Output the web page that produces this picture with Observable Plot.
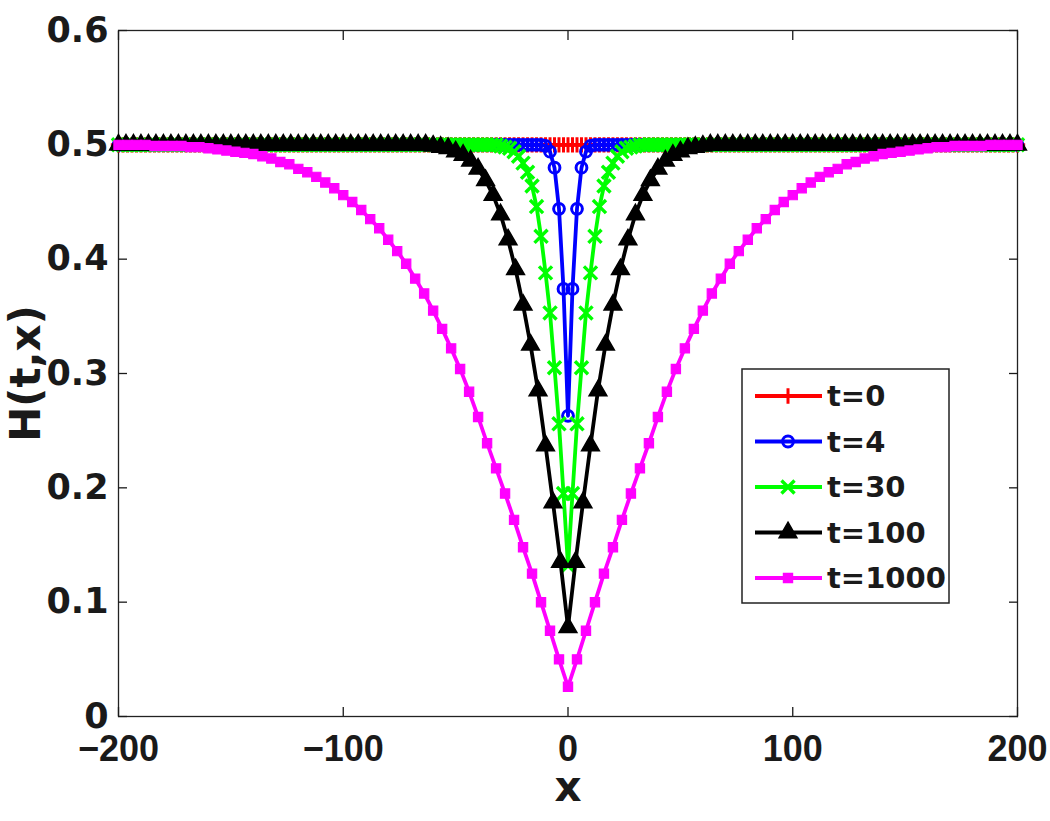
<!DOCTYPE html>
<html>
<head>
<meta charset="utf-8">
<script src="https://cdn.jsdelivr.net/npm/d3@7"></script>
<script src="https://cdn.jsdelivr.net/npm/@observablehq/plot@0.6"></script>
<style>
  html, body { margin: 0; padding: 0; background: #fff; }
  #chart { position: relative; width: 1050px; height: 821px; }
</style>
</head>
<body>
<div id="chart"></div>
<script>
// ---- data (values for x >= 0; the profile is symmetric about x = 0) ----
const seriesNames = ["t=0", "t=4", "t=30", "t=100", "t=1000"];
const seriesColors = ["#ff0000", "#0000ff", "#00ff00", "#000000", "#ff00ff"];
const seriesSymbols = ["plus", "circle", "times", "triangle", "square"];
const gridSteps = [2, 2, 2, 10 / 3, 4];   // x spacing of the sample points

const h0 = [
  0.5,0.5,0.5,0.5,0.5,0.5,0.5,0.5,0.5,0.5,
  0.5,0.5,0.5,0.5,0.5,0.5,0.5,0.5,0.5,0.5,
  0.5,0.5,0.5,0.5,0.5,0.5,0.5,0.5,0.5,0.5,
  0.5,0.5,0.5,0.5,0.5,0.5,0.5,0.5,0.5,0.5,
  0.5,0.5,0.5,0.5,0.5,0.5,0.5,0.5,0.5,0.5,
  0.5,0.5,0.5,0.5,0.5,0.5,0.5,0.5,0.5,0.5,
  0.5,0.5,0.5,0.5,0.5,0.5,0.5,0.5,0.5,0.5,
  0.5,0.5,0.5,0.5,0.5,0.5,0.5,0.5,0.5,0.5,
  0.5,0.5,0.5,0.5,0.5,0.5,0.5,0.5,0.5,0.5,
  0.5,0.5,0.5,0.5,0.5,0.5,0.5,0.5,0.5,0.5,
  0.5
];
const h4 = [
  0.263,0.374,0.444,0.480,0.494,0.499,0.5,0.5,0.5,0.5,
  0.5,0.5,0.5,0.5,0.5,0.5,0.5,0.5,0.5,0.5,
  0.5,0.5,0.5,0.5,0.5,0.5,0.5,0.5,0.5,0.5,
  0.5,0.5,0.5,0.5,0.5,0.5,0.5,0.5,0.5,0.5,
  0.5,0.5,0.5,0.5,0.5,0.5,0.5,0.5,0.5,0.5,
  0.5,0.5,0.5,0.5,0.5,0.5,0.5,0.5,0.5,0.5,
  0.5,0.5,0.5,0.5,0.5,0.5,0.5,0.5,0.5,0.5,
  0.5,0.5,0.5,0.5,0.5,0.5,0.5,0.5,0.5,0.5,
  0.5,0.5,0.5,0.5,0.5,0.5,0.5,0.5,0.5,0.5,
  0.5,0.5,0.5,0.5,0.5,0.5,0.5,0.5,0.5,0.5,
  0.5
];
const h30 = [
  0.132,0.195,0.256,0.305,0.353,0.388,0.420,0.446,0.464,0.476,
  0.484,0.490,0.494,0.497,0.498,0.499,0.5,0.5,0.5,0.5,
  0.5,0.5,0.5,0.5,0.5,0.5,0.5,0.5,0.5,0.5,
  0.5,0.5,0.5,0.5,0.5,0.5,0.5,0.5,0.5,0.5,
  0.5,0.5,0.5,0.5,0.5,0.5,0.5,0.5,0.5,0.5,
  0.5,0.5,0.5,0.5,0.5,0.5,0.5,0.5,0.5,0.5,
  0.5,0.5,0.5,0.5,0.5,0.5,0.5,0.5,0.5,0.5,
  0.5,0.5,0.5,0.5,0.5,0.5,0.5,0.5,0.5,0.5,
  0.5,0.5,0.5,0.5,0.5,0.5,0.5,0.5,0.5,0.5,
  0.5,0.5,0.5,0.5,0.5,0.5,0.5,0.5,0.5,0.5,
  0.5
];
const h100 = [
  0.078,0.135,0.187,0.237,0.285,0.325,0.360,0.391,0.417,0.439,
  0.456,0.469,0.479,0.486,0.491,0.494,0.497,0.498,0.499,0.5,
  0.5,0.5,0.5,0.5,0.5,0.5,0.5,0.5,0.5,0.5,
  0.5,0.5,0.5,0.5,0.5,0.5,0.5,0.5,0.5,0.5,
  0.5,0.5,0.5,0.5,0.5,0.5,0.5,0.5,0.5,0.5,
  0.5,0.5,0.5,0.5,0.5,0.5,0.5,0.5,0.5,0.5,
  0.5
];
const h1000 = [
  0.026,0.050,0.075,0.100,0.125,0.148,0.172,0.195,0.217,0.239,
  0.262,0.284,0.304,0.322,0.339,0.355,0.370,0.383,0.396,0.407,
  0.417,0.427,0.435,0.443,0.450,0.456,0.462,0.467,0.472,0.476,
  0.479,0.483,0.485,0.488,0.490,0.492,0.493,0.494,0.495,0.496,
  0.497,0.498,0.498,0.499,0.499,0.499,0.499,0.500,0.500,0.500,
  0.500
];
const seriesValues = [h0, h4, h30, h100, h1000];

const xTicks = [-200, -100, 0, 100, 200];
const yTicks = [0, 0.1, 0.2, 0.3, 0.4, 0.5, 0.6];

// ---- styles ----
const FONT = "DejaVu Sans";
const markerStyle = {
  plus:     {r: 5,   fill: "none",  strokeWidth: 3},
  circle:   {r: 5.4, fill: "none",  strokeWidth: 3},
  times:    {r: 6,   fill: "none",  strokeWidth: 3.4},
  triangle: {r: 6.6, fill: "color", strokeWidth: 1.5},
  square:   {r: 5.2, fill: "color", strokeWidth: 1.2}
};

function expand(values, step, name) {
  const n = values.length, out = [];
  for (let i = n - 1; i >= 1; i--) out.push({x: -i * step, y: values[i], name});
  for (let i = 0; i < n; i++) out.push({x: i * step, y: values[i], name});
  return out;
}

const seriesMarks = [];
seriesNames.forEach((name, k) => {
  const data = expand(seriesValues[k], gridSteps[k], name);
  const color = seriesColors[k];
  const ms = markerStyle[seriesSymbols[k]];
  seriesMarks.push(Plot.line(data, {x: "x", y: "y", stroke: color, strokeWidth: 3.8}));
  seriesMarks.push(Plot.dot(data, {
    x: "x", y: "y", symbol: () => seriesSymbols[k], r: ms.r,
    fill: ms.fill === "color" ? color : "none", stroke: color, strokeWidth: ms.strokeWidth
  }));
});

const fmtX = d => d < 0 ? "\u2212" + Math.abs(d) : String(d);
const fmtY = d => d === 0 ? "0" : d.toFixed(1);

const chart = Plot.plot({
  width: 1050,
  height: 821,
  marginLeft: 118,
  marginRight: 33,
  marginTop: 30,
  marginBottom: 105,
  style: {fontFamily: FONT, fontWeight: "bold", background: "#fff", color: "#1a1a1a"},
  x: {domain: [-200, 200]},
  y: {domain: [0, 0.6]},
  symbol: {type: "identity"},
  marks: [
    Plot.frame({stroke: "#222", strokeWidth: 1.3}),
    Plot.axisX(xTicks, {anchor: "bottom", tickSize: -9, tickPadding: 28, tickFormat: fmtX, fontSize: 36, fontFamily: "Liberation Sans", label: null, strokeWidth: 1.3}),
    Plot.axisX(xTicks, {anchor: "top", tickSize: -9, tickFormat: () => "", label: null, strokeWidth: 1.3}),
    Plot.axisY(yTicks, {anchor: "left", tickSize: -9, tickPadding: 19, tickFormat: fmtY, fontSize: 35, label: null, strokeWidth: 1.3}),
    Plot.axisY(yTicks, {anchor: "right", tickSize: -9, tickFormat: () => "", label: null, strokeWidth: 1.3}),
    Plot.text(["x"], {frameAnchor: "bottom", dy: 84, fontSize: 42, fontWeight: "bold", fill: "#1a1a1a"}),
    Plot.text(["H(t,x)"], {frameAnchor: "left", textAnchor: "middle", dx: -92, rotate: -90, fontSize: 42, fontWeight: "bold", fill: "#1a1a1a"}),
    ...seriesMarks
  ]
});
const container = document.getElementById("chart");
container.appendChild(chart);

// ---- legend ----
const symbolMap = {
  plus: d3.symbolPlus, circle: d3.symbolCircle, times: d3.symbolTimes,
  triangle: d3.symbolTriangle, square: d3.symbolSquare
};
const legW = 208, legH = 235;
const leg = d3.select(container).append("svg")
  .attr("width", legW + 2).attr("height", legH + 2)
  .style("position", "absolute").style("left", "741px").style("top", "368px");
leg.append("rect").attr("x", 1).attr("y", 1).attr("width", legW - 1).attr("height", legH - 1)
  .attr("fill", "#fff").attr("stroke", "#222").attr("stroke-width", 1.5);
seriesNames.forEach((name, k) => {
  const cy = 28 + k * 45.5;
  const color = seriesColors[k];
  const sym = seriesSymbols[k];
  const ms = markerStyle[sym];
  const g = leg.append("g");
  g.append("line").attr("x1", 14).attr("x2", 81).attr("y1", cy).attr("y2", cy)
    .attr("stroke", color).attr("stroke-width", 3.8);
  g.append("path")
    .attr("d", d3.symbol(symbolMap[sym], Math.PI * ms.r * ms.r)())
    .attr("transform", `translate(47,${cy})`)
    .attr("fill", ms.fill === "color" ? color : "none")
    .attr("stroke", color).attr("stroke-width", ms.strokeWidth);
  g.append("text").attr("x", 86).attr("y", cy).attr("dy", "0.36em")
    .attr("font-family", FONT).attr("font-weight", "bold").attr("font-size", 29)
    .attr("fill", "#1a1a1a").text(name);
});
</script>
</body>
</html>
